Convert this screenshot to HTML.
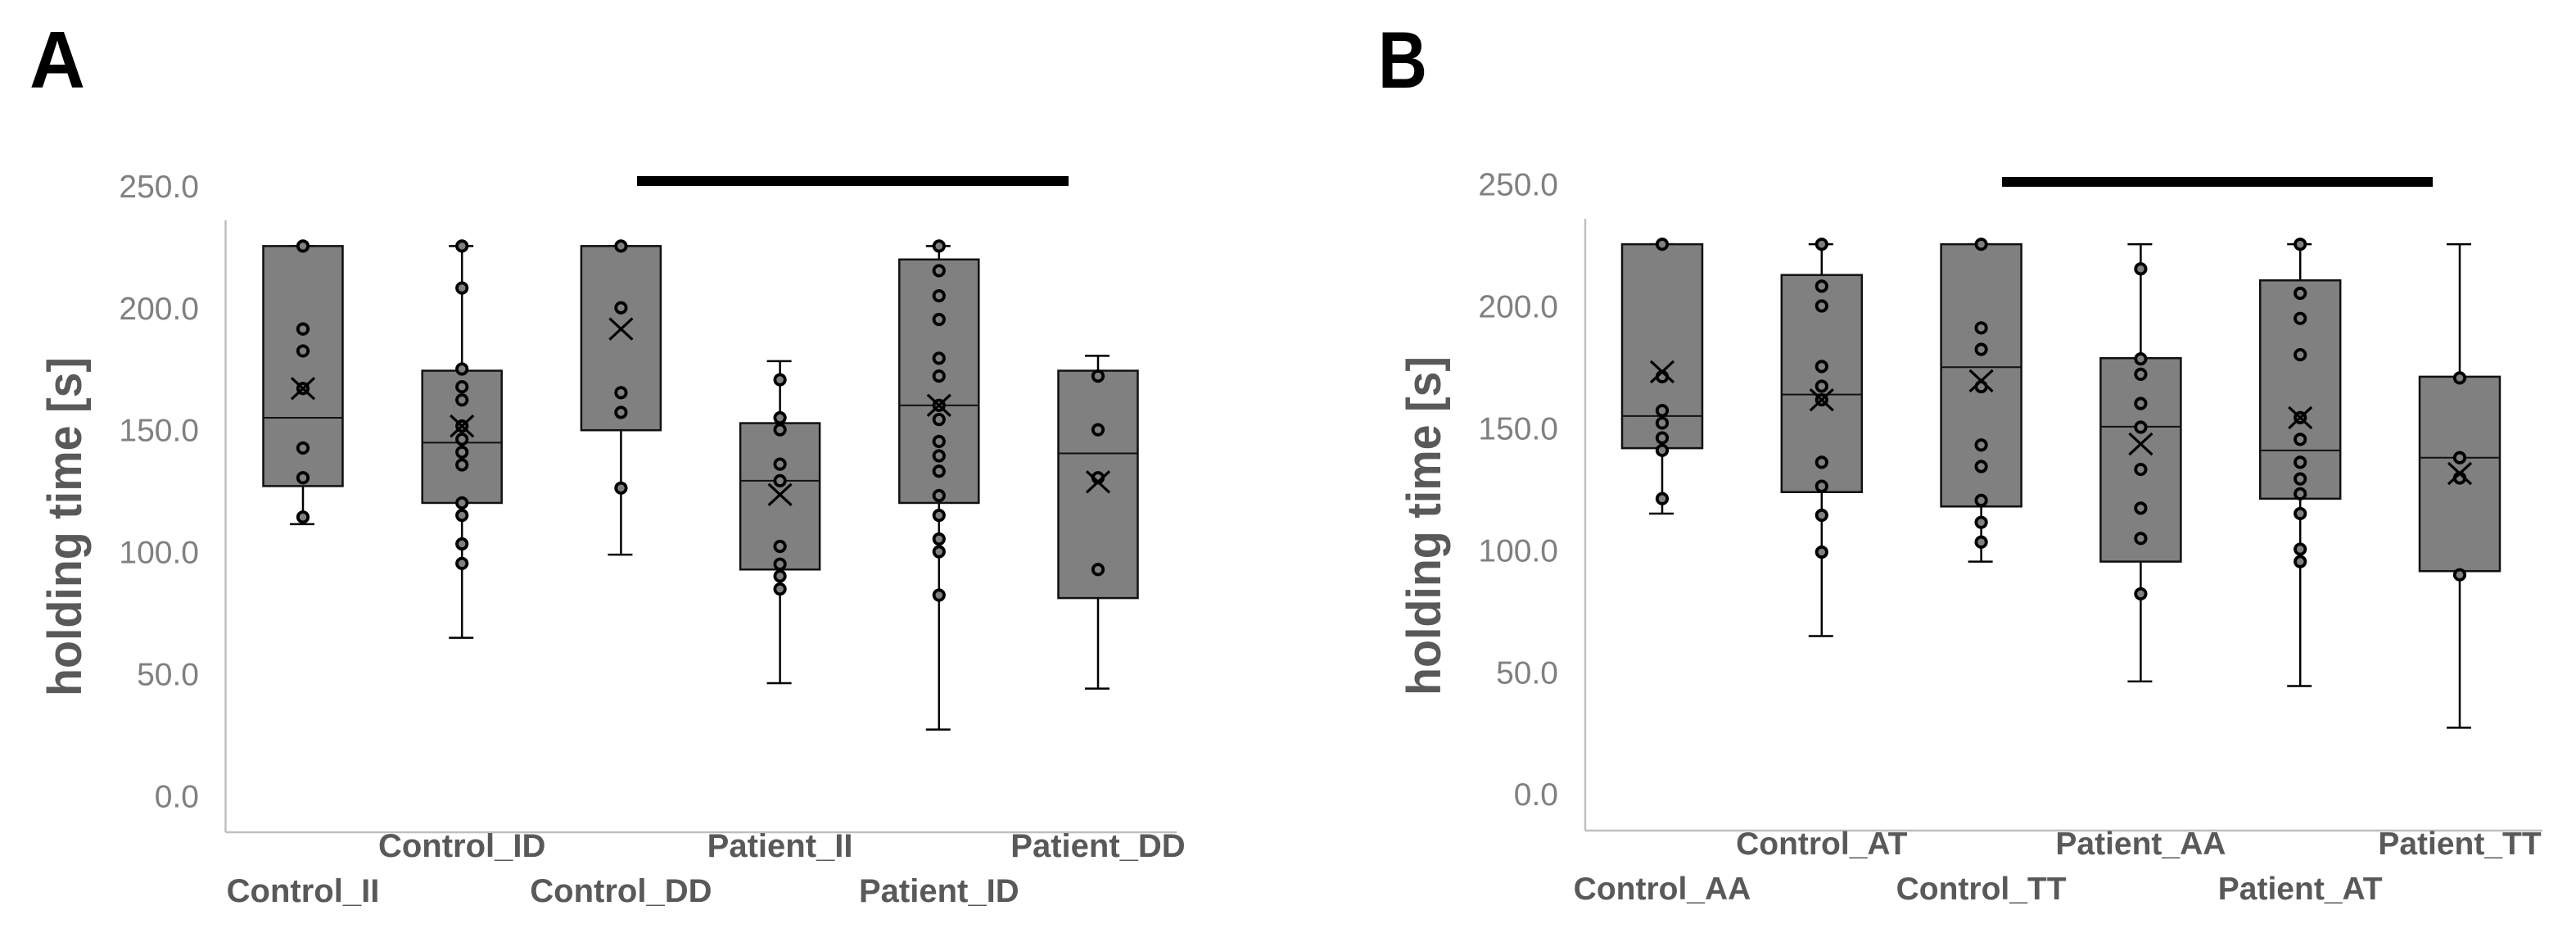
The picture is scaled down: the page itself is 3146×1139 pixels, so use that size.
<!DOCTYPE html>
<html lang="en">
<head>
<meta charset="utf-8">
<title>Holding time box plots</title>
<style>
html,body{margin:0;padding:0;background:#fff;width:3146px;height:1139px;overflow:hidden}
svg{display:block;font-family:"Liberation Sans",Arial,sans-serif}
</style>
</head>
<body>
<svg id="figure" xmlns="http://www.w3.org/2000/svg" width="3146" height="1139" viewBox="0 0 3146 1139">
  <rect x="0" y="0" width="3146" height="1139" fill="#ffffff"/>
  <text x="36" y="107" font-size="98" font-weight="700" fill="#000" textLength="68" lengthAdjust="spacingAndGlyphs">A</text>
  <text x="1683" y="107" font-size="98" font-weight="700" fill="#000" textLength="60" lengthAdjust="spacingAndGlyphs">B</text>
  <rect x="778" y="215" width="527" height="12" fill="#000"/>
  <rect x="2445" y="216" width="526" height="12" fill="#000"/>
  <text transform="translate(99 643) rotate(-90)" text-anchor="middle" font-size="58" font-weight="700" fill="#595959" textLength="414" lengthAdjust="spacingAndGlyphs">holding time [s]</text>
  <text transform="translate(1759 642) rotate(-90)" text-anchor="middle" font-size="58" font-weight="700" fill="#595959" textLength="414" lengthAdjust="spacingAndGlyphs">holding time [s]</text>
</svg>
<script>
const tickValues = [0, 50, 100, 150, 200, 250];
const tickLabels = ['0.0', '50.0', '100.0', '150.0', '200.0', '250.0'];

const categoriesA = ['Control_II', 'Control_ID', 'Control_DD', 'Patient_II', 'Patient_ID', 'Patient_DD'];
const whiskerHighA = [226, 226, 226, 178.8, 226, 181];
const q3A = [226, 174.9, 226, 153.4, 220.5, 174.9];
const medianA = [155.6, 145.4, 226, 129.8, 160.7, 141];
const q1A = [127.6, 120.7, 150.5, 93.4, 120.7, 81.7];
const whiskerLowA = [112, 65.4, 99.5, 46.8, 27.8, 44.6];
const meanA = [167.6, 152.2, 192, 124.1, 160.7, 129.3];
const pointsA = [
  [226, 192, 183, 167.6, 143.2, 131, 114.9],
  [226, 208.8, 175.6, 168.3, 162.9, 152.2, 146.8, 141.5, 136.3, 120.7, 115.6, 103.9, 95.9],
  [226, 200.7, 165.9, 157.8, 126.8],
  [171.2, 155.6, 150.7, 136.6, 129.8, 102.9, 95.6, 90.7, 85.4],
  [226, 215.9, 205.6, 195.9, 180, 172.7, 160.7, 154.9, 145.9, 140, 133.7, 123.7, 115.6, 105.9, 100.7, 82.9],
  [172.7, 150.7, 131, 93.4]
];

const categoriesB = ['Control_AA', 'Control_AT', 'Control_TT', 'Patient_AA', 'Patient_AT', 'Patient_TT'];
const whiskerHighB = [226, 226, 226, 226, 226, 226];
const q3B = [226, 213.4, 226, 179.3, 211.2, 171.7];
const medianB = [155.6, 164.4, 175.6, 151.2, 141.5, 138.5];
const q1B = [142.4, 124.4, 118.5, 95.9, 121.7, 92];
const whiskerLowB = [115.6, 65.4, 95.9, 46.8, 44.9, 27.8];
const meanB = [173.7, 162.2, 170, 144.1, 154.9, 132];
const pointsB = [
  [226, 171.7, 157.8, 152.7, 146.6, 141.5, 121.7],
  [226, 208.8, 200.7, 175.9, 167.8, 162.2, 136.6, 126.8, 114.9, 99.8],
  [226, 191.7, 182.9, 167.6, 143.7, 134.9, 121, 112, 103.9],
  [215.9, 179, 172.7, 160.7, 151, 133.7, 117.8, 105.4, 82.7],
  [226, 205.9, 195.6, 180.7, 154.9, 146, 136.6, 129.8, 123.7, 115.6, 101, 95.9],
  [171.2, 138.5, 130.2, 90.5]
];

const NS = 'http://www.w3.org/2000/svg';
const figure = document.getElementById('figure');

function make(parent, tag, props) {
  const el = document.createElementNS(NS, tag);
  for (const k in props) el.setAttribute(k, props[k]);
  parent.appendChild(el);
  return el;
}

function drawPanel(id, frame, data) {
  const yScale = v => frame.yZero - v * frame.yPerUnit;
  const xScale = i => frame.xFirst + i * frame.xStep;

  const panel = make(figure, 'g', {});
  
  

  const yAxis = make(panel, 'line', {x1: frame.axisX, x2: frame.axisX, y1: frame.axisTop, y2: frame.axisBottom, stroke: '#bfbfbf', 'stroke-width': 2.5});
  
  

  const xAxis = make(panel, 'line', {x1: frame.axisX, x2: frame.axisRight, y1: frame.axisBottom, y2: frame.axisBottom, stroke: '#bfbfbf', 'stroke-width': 2.5});
  
  

  tickValues.forEach((v, i) => {
    const t = make(panel, 'text', {x: frame.tickRight, y: yScale(v) + 12, 'text-anchor': 'end', 'font-size': 39, fill: '#808080'});
    t.textContent = tickLabels[i];
    
    
  });

  data.categories.forEach((name, i) => {
    const cx = xScale(i);
    const half = frame.boxHalf;
    const g = make(panel, 'g', {});
    
    

    const upper = make(g, 'line', {x1: cx, x2: cx, y1: yScale(data.high[i]), y2: yScale(data.q3[i]), stroke: '#000', 'stroke-width': 2.5});
    
    

    const lower = make(g, 'line', {x1: cx, x2: cx, y1: yScale(data.q1[i]), y2: yScale(data.low[i]), stroke: '#000', 'stroke-width': 2.5});
    
    

    const capHigh = make(g, 'line', {x1: cx - 16, x2: cx + 14, y1: yScale(data.high[i]), y2: yScale(data.high[i]), stroke: '#000', 'stroke-width': 2.5});
    
    

    const capLow = make(g, 'line', {x1: cx - 16, x2: cx + 14, y1: yScale(data.low[i]), y2: yScale(data.low[i]), stroke: '#000', 'stroke-width': 2.5});
    
    

    const box = make(g, 'rect', {x: cx - half, y: yScale(data.q3[i]), width: half * 2, height: yScale(data.q1[i]) - yScale(data.q3[i]), fill: '#808080', stroke: '#111', 'stroke-width': 2.5});
    
    

    const med = make(g, 'line', {x1: cx - half, x2: cx + half, y1: yScale(data.median[i]), y2: yScale(data.median[i]), stroke: '#111', 'stroke-width': 2});
    
    

    data.points[i].forEach(v => {
      const p = make(g, 'circle', {cx: cx, cy: yScale(v), r: 6.2, fill: '#808080', stroke: '#000', 'stroke-width': 3.8});
      
      
    });

    const my = yScale(data.mean[i]);
    const mean = make(g, 'path', {d: 'M' + (cx - 14) + ' ' + (my - 13) + 'L' + (cx + 14) + ' ' + (my + 13) + 'M' + (cx - 14) + ' ' + (my + 13) + 'L' + (cx + 14) + ' ' + (my - 13), fill: 'none', stroke: '#000', 'stroke-width': 3.2});
    
    

    const label = make(panel, 'text', {x: cx, y: i % 2 === 0 ? frame.labelLow : frame.labelHigh, 'text-anchor': 'middle', 'font-size': frame.labelSize, 'font-weight': 700, fill: '#595959'});
    label.textContent = name;
    
    
  });
}

drawPanel('panel-a', {
  yZero: 973.4, yPerUnit: 2.978, xFirst: 370, xStep: 194.2, boxHalf: 48.5,
  axisX: 275.5, axisRight: 1437, axisTop: 269, axisBottom: 1016,
  tickRight: 243, labelHigh: 1046, labelLow: 1101, labelSize: 40
}, {
  categories: categoriesA, high: whiskerHighA, q3: q3A, median: medianA,
  q1: q1A, low: whiskerLowA, mean: meanA, points: pointsA
});

drawPanel('panel-b', {
  yZero: 971.2, yPerUnit: 2.978, xFirst: 2030, xStep: 194.8, boxHalf: 49,
  axisX: 1936, axisRight: 3105, axisTop: 267, axisBottom: 1014,
  tickRight: 1903, labelHigh: 1043, labelLow: 1098, labelSize: 39
}, {
  categories: categoriesB, high: whiskerHighB, q3: q3B, median: medianB,
  q1: q1B, low: whiskerLowB, mean: meanB, points: pointsB
});
</script>
</body>
</html>
